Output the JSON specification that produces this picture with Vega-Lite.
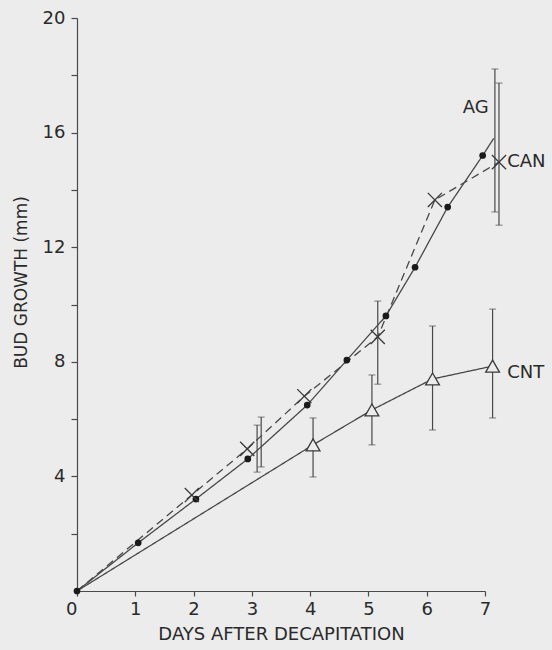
{
  "$schema": "https://vega.github.io/schema/vega-lite/v6.json",
  "width": 408,
  "height": 573,
  "autosize": "none",
  "padding": {"left": 77, "top": 18, "right": 67, "bottom": 59},
  "background": "#ececec",
  "config": {
    "view": {"stroke": null},
    "font": "DejaVu Sans",
    "axis": {
      "grid": false,
      "domainColor": "#4a4a4a",
      "tickColor": "#4a4a4a",
      "labelColor": "#2a2a2a",
      "titleColor": "#2a2a2a",
      "labelFont": "DejaVu Sans",
      "titleFont": "DejaVu Sans",
      "titleFontWeight": "normal",
      "domainWidth": 1.2,
      "tickWidth": 1.2
    }
  },
  "datasets": {
    "means": [
      {"series": "AG", "day": 0, "growth": 0},
      {"series": "AG", "day": 1.05, "growth": 1.68},
      {"series": "AG", "day": 2.04, "growth": 3.21},
      {"series": "AG", "day": 2.93, "growth": 4.61},
      {"series": "AG", "day": 3.95, "growth": 6.49},
      {"series": "AG", "day": 4.63, "growth": 8.06},
      {"series": "AG", "day": 5.3, "growth": 9.6},
      {"series": "AG", "day": 5.8, "growth": 11.3},
      {"series": "AG", "day": 6.36, "growth": 13.4},
      {"series": "AG", "day": 6.96, "growth": 15.2},
      {"series": "AG", "day": 7.15, "growth": 15.8},
      {"series": "CAN", "day": 0, "growth": 0},
      {"series": "CAN", "day": 1.97, "growth": 3.35},
      {"series": "CAN", "day": 2.92, "growth": 4.96},
      {"series": "CAN", "day": 3.9, "growth": 6.8},
      {"series": "CAN", "day": 5.16, "growth": 8.87},
      {"series": "CAN", "day": 6.14, "growth": 13.65},
      {"series": "CAN", "day": 7.24, "growth": 14.97},
      {"series": "CNT", "day": 0, "growth": 0},
      {"series": "CNT", "day": 4.05, "growth": 5.1},
      {"series": "CNT", "day": 5.06, "growth": 6.32},
      {"series": "CNT", "day": 6.1, "growth": 7.4},
      {"series": "CNT", "day": 7.13, "growth": 7.85}
    ],
    "errors": [
      {"series": "AG", "day": 3.09, "lo": 4.15, "hi": 5.79},
      {"series": "AG", "day": 7.17, "lo": 13.23, "hi": 18.22},
      {"series": "CAN", "day": 3.16, "lo": 4.33, "hi": 6.07},
      {"series": "CAN", "day": 5.16, "lo": 7.22, "hi": 10.12},
      {"series": "CAN", "day": 7.24, "lo": 12.77, "hi": 17.73},
      {"series": "CNT", "day": 4.05, "lo": 3.98, "hi": 6.04},
      {"series": "CNT", "day": 5.06, "lo": 5.1, "hi": 7.54},
      {"series": "CNT", "day": 6.1, "lo": 5.62, "hi": 9.25},
      {"series": "CNT", "day": 7.13, "lo": 6.04, "hi": 9.84}
    ],
    "labels": [
      {"series": "AG", "day": 6.84, "growth": 16.86},
      {"series": "CAN", "day": 7.38, "growth": 14.97},
      {"series": "CNT", "day": 7.38, "growth": 7.6}
    ]
  },
  "encoding": {
    "x": {
      "field": "day",
      "type": "quantitative",
      "scale": {"domain": [0, 7], "nice": false},
      "axis": {
        "title": "DAYS AFTER DECAPITATION",
        "values": [0, 1, 2, 3, 4, 5, 6, 7],
        "labelFontSize": 18,
        "titleFontSize": 18,
        "tickSize": 5,
        "labelPadding": 4,
        "titlePadding": 7,
        "labelAlign": {"condition": {"test": "datum.value == 0", "value": "right"}, "value": "center"},
        "labelFlush": false,
        "labelOverlap": false
      }
    },
    "y": {
      "field": "growth",
      "type": "quantitative",
      "scale": {"domain": [0, 20], "nice": false},
      "axis": {
        "title": "BUD GROWTH (mm)",
        "values": [2, 4, 6, 8, 10, 12, 14, 16, 18, 20],
        "labelExpr": "datum.value % 4 == 0 ? datum.label : ''",
        "labelFontSize": 18,
        "titleFontSize": 17,
        "tickSize": 6,
        "labelPadding": 6,
        "titlePadding": 12,
        "titleY": 264,
        "labelFlush": false,
        "labelOverlap": false
      }
    }
  },
  "layer": [
    {
      "data": {"name": "means"},
      "mark": {"type": "line", "color": "#484848", "strokeWidth": 1.3},
      "encoding": {
        "detail": {"field": "series"},
        "strokeDash": {
          "field": "series",
          "scale": {"domain": ["AG", "CAN", "CNT"], "range": [[1, 0], [8, 5], [1, 0]]},
          "legend": null
        },
        "order": {"field": "day"}
      }
    },
    {
      "data": {"name": "errors"},
      "mark": {"type": "errorbar", "ticks": {"size": 7, "color": "#484848", "strokeWidth": 1.2}, "rule": {"color": "#484848", "strokeWidth": 1.2}},
      "encoding": {
        "y": {"field": "lo", "type": "quantitative"},
        "y2": {"field": "hi"}
      }
    },
    {
      "data": {"name": "means"},
      "transform": [{"filter": "datum.series == 'AG' && datum.day < 7.1"}],
      "mark": {"type": "circle", "color": "#1a1a1a", "opacity": 1, "size": 45}
    },
    {
      "data": {"name": "means"},
      "transform": [{"filter": "datum.series == 'CAN' && datum.day > 0"}],
      "mark": {"type": "point", "shape": "M-1,-1L1,1M-1,1L1,-1", "filled": false, "stroke": "#3a3a3a", "strokeWidth": 1.3, "size": 200, "opacity": 1}
    },
    {
      "data": {"name": "means"},
      "transform": [{"filter": "datum.series == 'CNT' && datum.day > 0"}],
      "mark": {"type": "point", "shape": "triangle-up", "filled": true, "fill": "#ececec", "stroke": "#3a3a3a", "strokeWidth": 1.3, "size": 190, "opacity": 1}
    },
    {
      "data": {"name": "labels"},
      "transform": [{"filter": "datum.series == 'AG'"}],
      "mark": {"type": "text", "fontSize": 18, "font": "DejaVu Sans", "color": "#2a2a2a", "baseline": "middle", "align": "center"},
      "encoding": {"text": {"field": "series"}}
    },
    {
      "data": {"name": "labels"},
      "transform": [{"filter": "datum.series != 'AG'"}],
      "mark": {"type": "text", "fontSize": 18, "font": "DejaVu Sans", "color": "#2a2a2a", "baseline": "middle", "align": "left"},
      "encoding": {"text": {"field": "series"}}
    }
  ]
}
